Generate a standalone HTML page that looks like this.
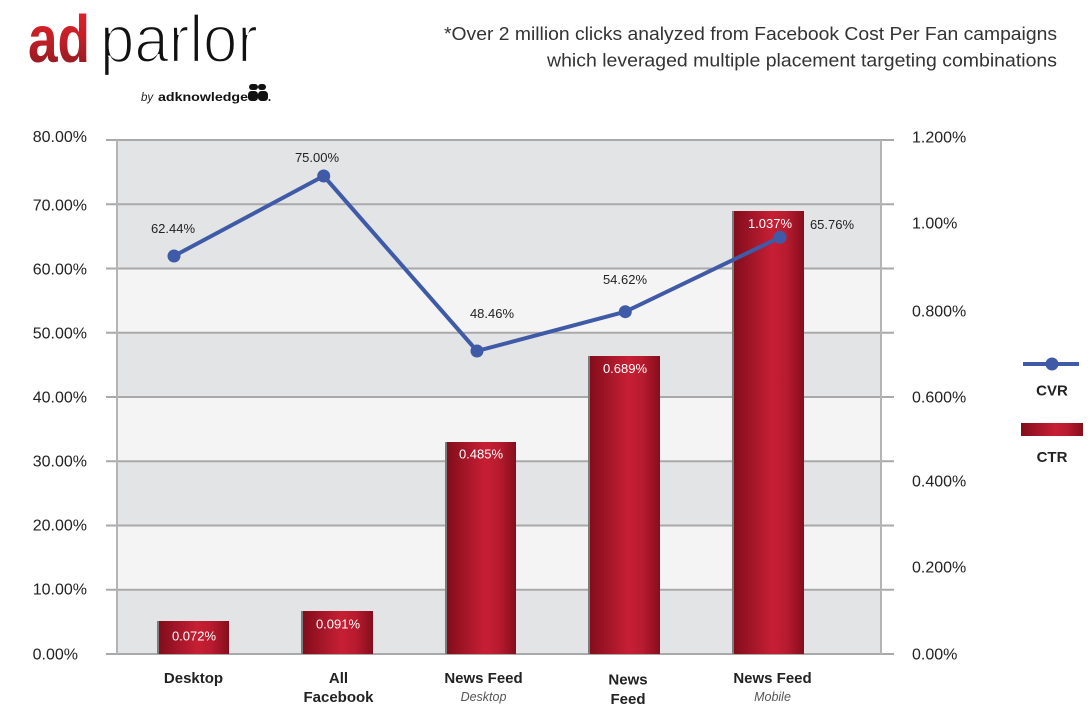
<!DOCTYPE html>
<html>
<head>
<meta charset="utf-8">
<style>
html,body{margin:0;padding:0;background:#fff;}
svg{display:block;}
text{font-family:"Liberation Sans",Arial,sans-serif;}
</style>
</head>
<body>
<svg width="1090" height="719" viewBox="0 0 1090 719" xmlns="http://www.w3.org/2000/svg">
<defs>
  <linearGradient id="barg" x1="0" y1="0" x2="1" y2="0">
    <stop offset="0" stop-color="#820d1b"/>
    <stop offset="0.3" stop-color="#a8172a"/>
    <stop offset="0.55" stop-color="#c71f34"/>
    <stop offset="0.75" stop-color="#b81b2f"/>
    <stop offset="1" stop-color="#860e1d"/>
  </linearGradient>
  <linearGradient id="adg" x1="0" y1="0" x2="0" y2="1">
    <stop offset="0" stop-color="#e8232b"/>
    <stop offset="0.5" stop-color="#c21e26"/>
    <stop offset="1" stop-color="#7e1a1e"/>
  </linearGradient>
</defs>

<!-- Logo -->
<text x="28" y="62" font-size="67" font-weight="bold" fill="url(#adg)" textLength="62" lengthAdjust="spacingAndGlyphs">ad</text>
<text x="100" y="62" font-size="67" fill="#111" stroke="#fff" stroke-width="2.2" textLength="158" lengthAdjust="spacingAndGlyphs">parlor</text>
<text x="141" y="101" font-size="11.5" font-style="italic" fill="#222">by</text>
<text x="158" y="101" font-size="12" font-weight="bold" fill="#111" textLength="90" lengthAdjust="spacingAndGlyphs">adknowledge</text>
<g fill="#111">
  <rect x="249" y="84" width="9" height="6" rx="3"/>
  <rect x="258" y="84" width="8" height="6" rx="3"/>
  <rect x="248" y="91" width="10" height="10" rx="3.5"/>
  <rect x="258" y="91" width="10" height="10" rx="3.5"/>
  <circle cx="269.5" cy="100" r="1"/>
</g>

<!-- Subtitle -->
<text x="1057" y="40" font-size="18.5" fill="#333" text-anchor="end" textLength="613" lengthAdjust="spacingAndGlyphs">*Over 2 million clicks analyzed from Facebook Cost Per Fan campaigns</text>
<text x="1057" y="66.7" font-size="18.5" fill="#333" text-anchor="end" textLength="510" lengthAdjust="spacingAndGlyphs">which leveraged multiple placement targeting combinations</text>

<!-- Plot bands -->
<rect x="117" y="140" width="764" height="128.5" fill="#e3e4e6"/>
<rect x="117" y="268.5" width="764" height="64.25" fill="#f4f4f4"/>
<rect x="117" y="332.75" width="764" height="64.25" fill="#e3e4e6"/>
<rect x="117" y="397" width="764" height="64.25" fill="#f4f4f4"/>
<rect x="117" y="461.25" width="764" height="64.25" fill="#e3e4e6"/>
<rect x="117" y="525.5" width="764" height="64.25" fill="#f4f4f4"/>
<rect x="117" y="589.75" width="764" height="64.25" fill="#e3e4e6"/>

<!-- Gridlines -->
<g stroke="#a9a9a9" stroke-width="2">
  <line x1="106" y1="140" x2="894" y2="140"/>
  <line x1="106" y1="204.25" x2="894" y2="204.25"/>
  <line x1="106" y1="268.5" x2="894" y2="268.5"/>
  <line x1="106" y1="332.75" x2="894" y2="332.75"/>
  <line x1="106" y1="397" x2="894" y2="397"/>
  <line x1="106" y1="461.25" x2="894" y2="461.25"/>
  <line x1="106" y1="525.5" x2="894" y2="525.5"/>
  <line x1="106" y1="589.75" x2="894" y2="589.75"/>
  <line x1="106" y1="654" x2="894" y2="654"/>
</g>
<g stroke="#b4b4b4" stroke-width="2">
  <line x1="117" y1="140" x2="117" y2="654"/>
  <line x1="881" y1="140" x2="881" y2="654"/>
</g>

<!-- Bars -->
<g>
  <rect x="157" y="621" width="2" height="33" fill="#7c7c7c"/>
  <rect x="159" y="621" width="70" height="33" fill="url(#barg)"/>
  <rect x="301" y="611" width="2" height="43" fill="#7c7c7c"/>
  <rect x="303" y="611" width="70" height="43" fill="url(#barg)"/>
  <rect x="445" y="442" width="2" height="212" fill="#7c7c7c"/>
  <rect x="447" y="442" width="69" height="212" fill="url(#barg)"/>
  <rect x="588" y="356" width="2" height="298" fill="#7c7c7c"/>
  <rect x="590" y="356" width="70" height="298" fill="url(#barg)"/>
  <rect x="732" y="211" width="2" height="443" fill="#7c7c7c"/>
  <rect x="734" y="211" width="70" height="443" fill="url(#barg)"/>
</g>
<g font-size="13" fill="#fff" text-anchor="middle">
  <text x="194" y="640.5">0.072%</text>
  <text x="338" y="628.5">0.091%</text>
  <text x="481" y="458.5">0.485%</text>
  <text x="625" y="373">0.689%</text>
  <text x="770" y="228">1.037%</text>
</g>

<!-- CVR line -->
<polyline points="174,256 323.7,176 477,351 625.3,311.7 780,237.3" fill="none" stroke="#3f5ba8" stroke-width="4" stroke-linejoin="round"/>
<g fill="#3f5ba8">
  <circle cx="174" cy="256" r="6.5"/>
  <circle cx="323.7" cy="176" r="6.5"/>
  <circle cx="477" cy="351" r="6.5"/>
  <circle cx="625.3" cy="311.7" r="6.5"/>
  <circle cx="780" cy="237.3" r="6.5"/>
</g>
<g font-size="13" fill="#222" text-anchor="middle">
  <text x="173" y="233">62.44%</text>
  <text x="317" y="162">75.00%</text>
  <text x="492" y="318">48.46%</text>
  <text x="625" y="284">54.62%</text>
  <text x="832" y="229">65.76%</text>
</g>

<!-- Left axis labels -->
<g font-size="16" fill="#222" text-anchor="end">
  <text x="87" y="142">80.00%</text>
  <text x="87" y="210.5">70.00%</text>
  <text x="87" y="274.5">60.00%</text>
  <text x="87" y="338.5">50.00%</text>
  <text x="87" y="402.5">40.00%</text>
  <text x="87" y="466.5">30.00%</text>
  <text x="87" y="530.5">20.00%</text>
  <text x="87" y="594.5">10.00%</text>
  <text x="78" y="659.5">0.00%</text>
</g>

<!-- Right axis labels -->
<g font-size="16" fill="#222">
  <text x="912" y="142.5">1.200%</text>
  <text x="912" y="228.5">1.00%</text>
  <text x="912" y="316.5">0.800%</text>
  <text x="912" y="402.5">0.600%</text>
  <text x="912" y="486.5">0.400%</text>
  <text x="912" y="572.5">0.200%</text>
  <text x="912" y="659.5">0.00%</text>
</g>

<!-- X labels -->
<g font-size="15" font-weight="bold" fill="#222" text-anchor="middle">
  <text x="193.5" y="683">Desktop</text>
  <text x="338.5" y="683">All</text>
  <text x="338.5" y="702">Facebook</text>
  <text x="483.5" y="683">News Feed</text>
  <text x="628" y="684.5">News</text>
  <text x="628" y="704">Feed</text>
  <text x="772.5" y="683">News Feed</text>
</g>
<g font-size="12.5" font-style="italic" fill="#555" text-anchor="middle">
  <text x="483.5" y="701">Desktop</text>
  <text x="772.5" y="701">Mobile</text>
</g>

<!-- Legend -->
<line x1="1023" y1="364" x2="1079" y2="364" stroke="#3f5ba8" stroke-width="4"/>
<circle cx="1052" cy="364" r="6.5" fill="#3f5ba8"/>
<text x="1052" y="395.5" font-size="15" font-weight="bold" fill="#222" text-anchor="middle">CVR</text>
<rect x="1021" y="423" width="62" height="13" fill="url(#barg)"/>
<text x="1052" y="462" font-size="15" font-weight="bold" fill="#222" text-anchor="middle">CTR</text>
</svg>
</body>
</html>
